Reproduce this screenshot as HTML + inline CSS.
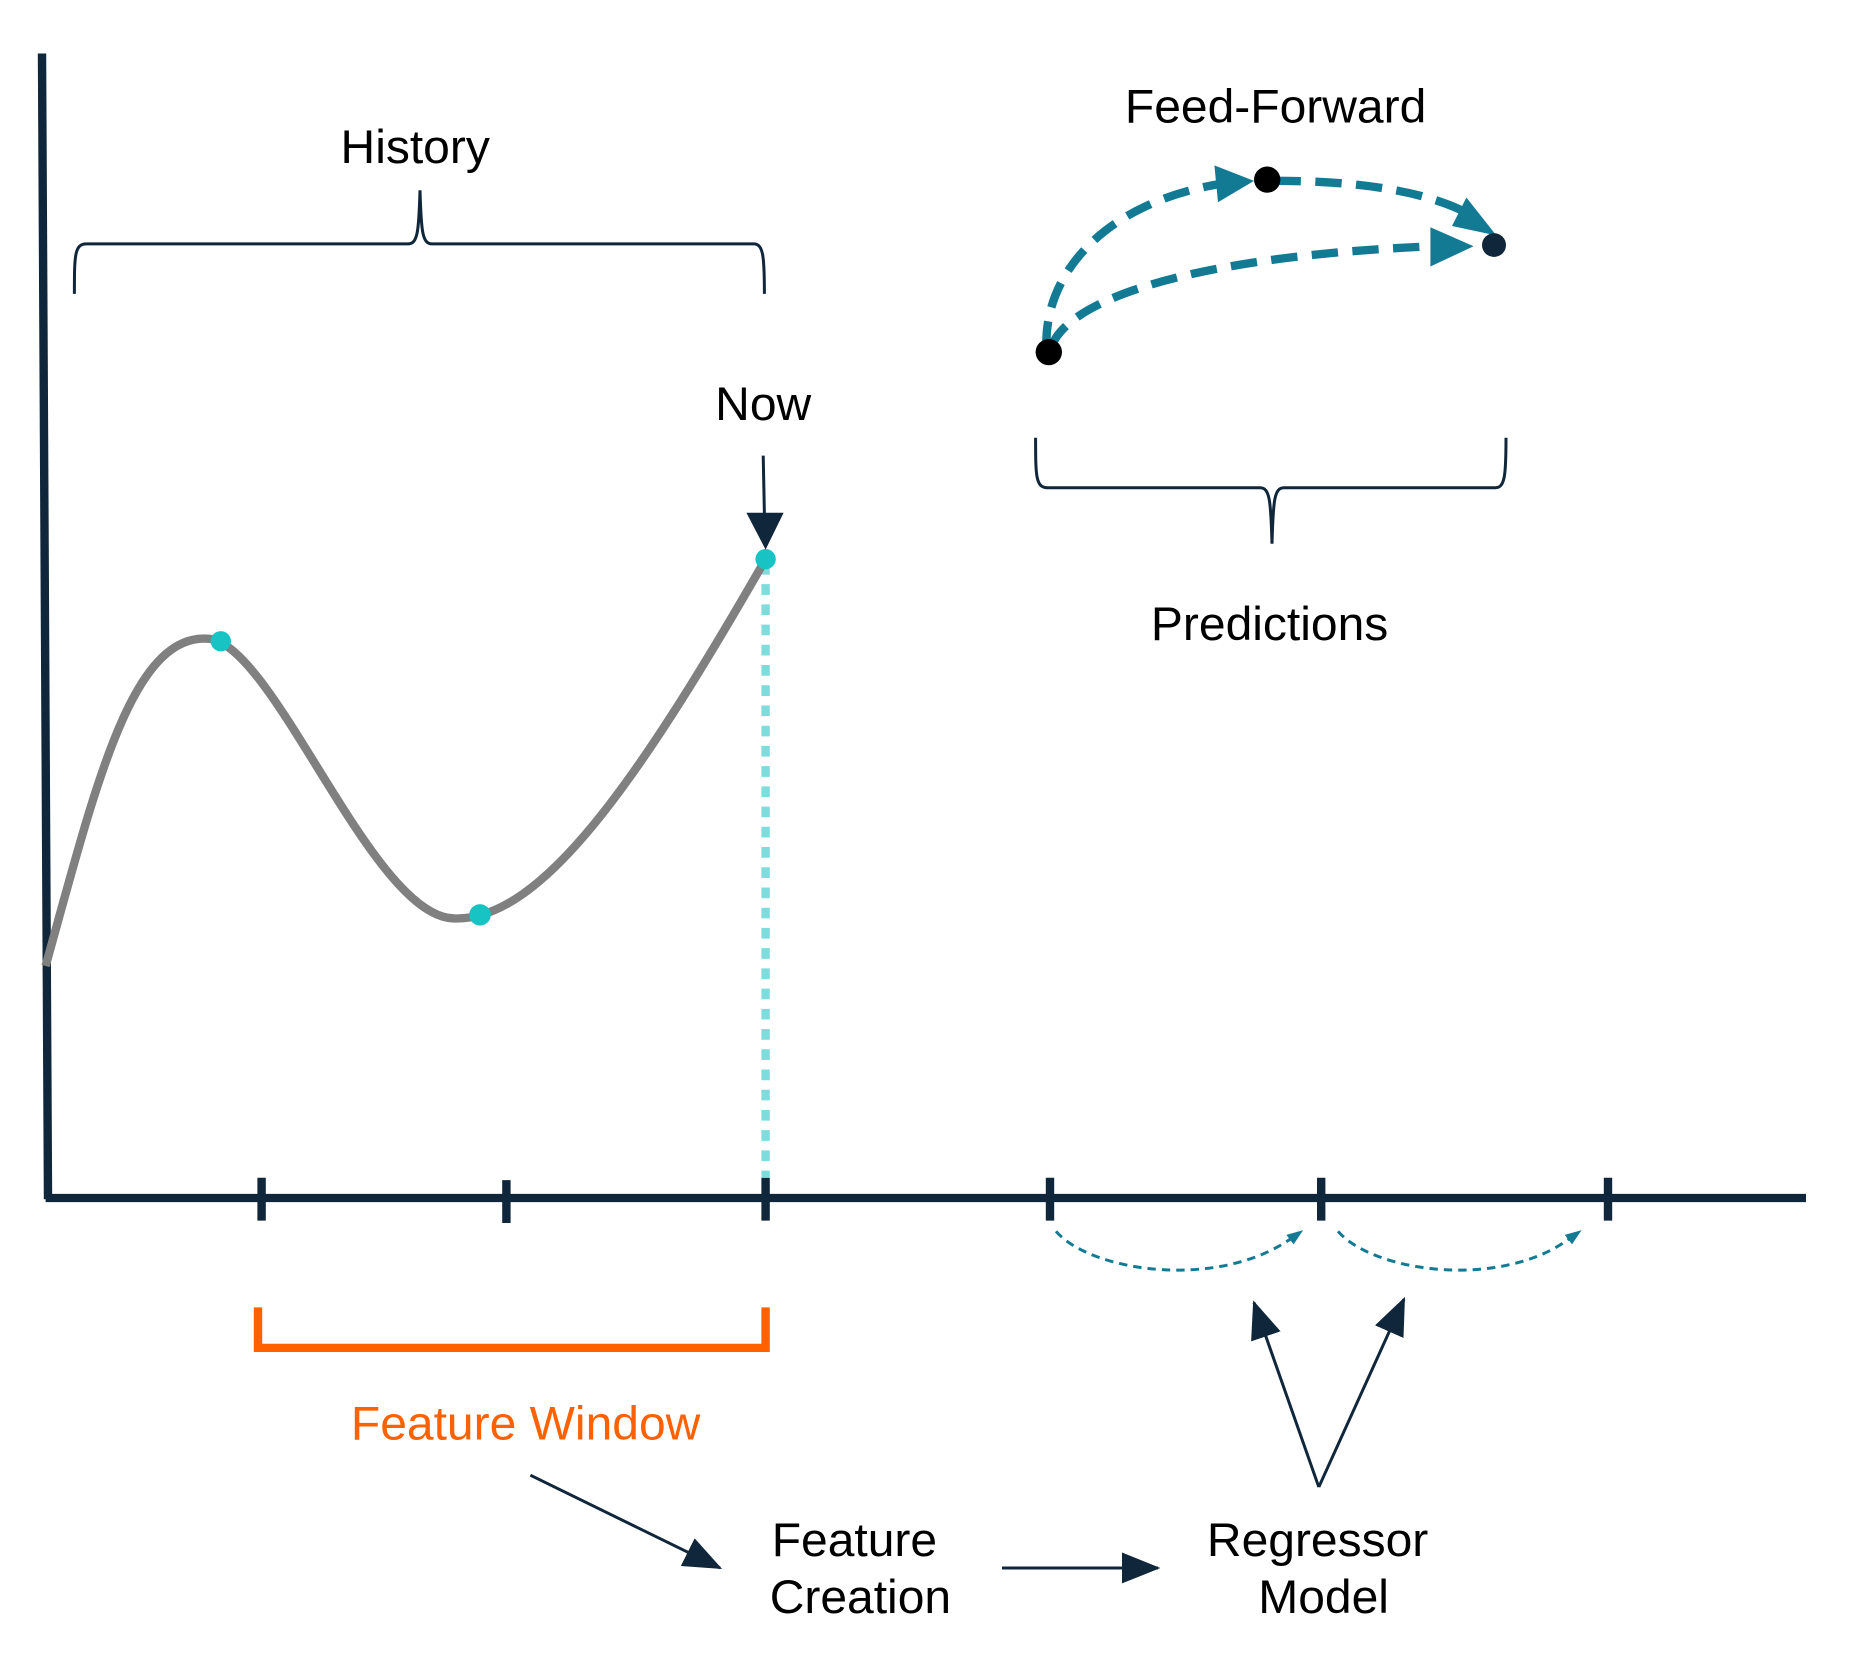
<!DOCTYPE html>
<html><head><style>html,body{margin:0;padding:0;background:#fff}svg{display:block}</style></head>
<body>
<svg width="1872" height="1656" viewBox="0 0 1560 1392" preserveAspectRatio="none" xmlns="http://www.w3.org/2000/svg" font-family="Liberation Sans, sans-serif" font-size="40">
<defs>
<marker id="ah" markerWidth="32" markerHeight="26" refX="30" refY="13" orient="auto" markerUnits="userSpaceOnUse" viewBox="0 0 32 26"><path d="M0,0 L32,13 L0,26 z" fill="#10263a"/></marker>
</defs>
<rect width="1560" height="1392" fill="#fff"/>
<path d="M35,45 L40,1008" stroke="#10263a" stroke-width="7" fill="none"/>
<path d="M38,1007 L1505,1007" stroke="#10263a" stroke-width="7"/>
<g stroke="#10263a" stroke-width="7">
<path d="M218,990 V1026"/><path d="M422,992 V1028"/><path d="M638,990 V1026"/><path d="M875,990 V1026"/><path d="M1101,990 V1026"/><path d="M1340,990 V1026"/>
</g>
<path d="M638,474 V990" stroke="#7fdcdc" stroke-width="7" stroke-dasharray="9 8"/>
<path d="M38,812 C80,660 110,530 175,537 C230,545 310,770 378,772 C450,775 530,660 638,470" stroke="#808080" stroke-width="7" fill="none"/>
<circle cx="184" cy="539" r="8.5" fill="#17c3c3"/>
<circle cx="400" cy="769" r="9" fill="#17c3c3"/>
<circle cx="638" cy="470" r="8.5" fill="#17c3c3"/>
<path d="M62,247 C62,215 62,205 72,205 L340,205 C348,205 349,195 350,160 C351,195 352,205 360,205 L628,205 C636,205 637,215 637,247" stroke="#10263a" stroke-width="2.5" fill="none"/>
<text x="346" y="137" text-anchor="middle">History</text>
<text x="636" y="353" text-anchor="middle">Now</text>
<path d="M636,383 L637,432" stroke="#10263a" stroke-width="2.5"/>
<path d="M622,431 L653,431 L638,462 z" fill="#10263a"/>
<path d="M863,368 C863,400 863,410 873,410 L1050,410 C1058,410 1059,420 1060,457 C1061,420 1062,410 1070,410 L1246,410 C1254,410 1255,400 1255,368" stroke="#10263a" stroke-width="2.5" fill="none"/>
<text x="1058" y="538" text-anchor="middle">Predictions</text>
<text x="1063" y="103" text-anchor="middle">Feed-Forward</text>
<g stroke="#137a94" stroke-width="7" fill="none" stroke-dasharray="22 12">
<path d="M872,292 C870,230 920,170 1020,154"/>
<path d="M1062,152 C1130,152 1190,160 1228,182"/>
<path d="M876,292 C890,250 1000,215 1195,207"/>
</g>
<path d="M1012,139 L1045,152 L1015,170 z" fill="#137a94"/>
<path d="M1222,166 L1247,198 L1210,190 z" fill="#137a94"/>
<path d="M1192,191 L1228,207 L1192,224 z" fill="#137a94"/>
<circle cx="874" cy="296" r="11" fill="#000"/>
<circle cx="1056" cy="151" r="11" fill="#000"/>
<circle cx="1245" cy="206" r="10" fill="#10263a"/>
<g stroke="#137a94" stroke-width="2.5" fill="none" stroke-dasharray="7 5">
<path d="M880,1035 C910,1070 1020,1085 1080,1038"/>
<path d="M1115,1035 C1145,1070 1255,1085 1312,1038"/>
</g>
<path d="M1072,1038 L1086,1034 L1078,1046 z" fill="#137a94"/>
<path d="M1304,1038 L1318,1034 L1310,1046 z" fill="#137a94"/>
<path d="M215,1099 V1133 H638 V1099" stroke="#ff6000" stroke-width="7" fill="none"/>
<text x="438" y="1210" text-anchor="middle" fill="#ff6000">Feature Window</text>
<path d="M442,1240 L600,1318" stroke="#10263a" stroke-width="2.5" marker-end="url(#ah)"/>
<path d="M835,1318 L965,1318" stroke="#10263a" stroke-width="2.5" marker-end="url(#ah)"/>
<path d="M1099,1250 L1045,1095" stroke="#10263a" stroke-width="2.5" marker-end="url(#ah)"/>
<path d="M1099,1250 L1170,1092" stroke="#10263a" stroke-width="2.5" marker-end="url(#ah)"/>
<text x="712" y="1308" text-anchor="middle">Feature</text>
<text x="717" y="1356" text-anchor="middle">Creation</text>
<text x="1098" y="1308" text-anchor="middle">Regressor</text>
<text x="1103" y="1356" text-anchor="middle">Model</text>
</svg>
</body></html>
